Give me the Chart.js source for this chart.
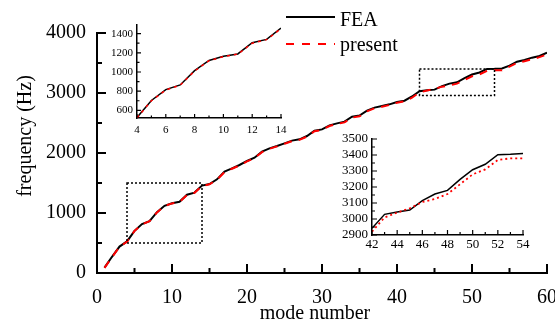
<!DOCTYPE html>
<html><head><meta charset="utf-8">
<script src="https://cdn.jsdelivr.net/npm/chart.js@4/dist/chart.umd.min.js"></script>
<style>
html,body{margin:0;padding:0;background:#fff;}
#wrap{position:relative;width:555px;height:322px;overflow:hidden;background:#fff;}
canvas{position:absolute;}
</style></head><body>
<div id="wrap">
<canvas id="main" width="555" height="322" style="left:0;top:0;width:555px;height:322px"></canvas>
<canvas id="in1" width="190" height="125" style="left:100px;top:15px;width:190px;height:125px"></canvas>
<canvas id="in2" width="205" height="125" style="left:330px;top:128px;width:205px;height:125px"></canvas>
</div>
<script>
// ---------- data ----------
const modes = [1,2,3,4,5,6,7,8,9,10,11,12,13,14,15,16,17,18,19,20,21,22,23,24,25,26,27,28,29,30,31,32,33,34,35,36,37,38,39,40,41,42,43,44,45,46,47,48,49,50,51,52,53,54,55,56,57,58,59,60];
const feaHz = [90,270,440,526,703,816,865,1014,1120,1163,1188,1305,1340,1457,1483,1561,1689,1744,1800,1867,1922,2022,2078,2117,2161,2206,2228,2283,2372,2394,2460,2494,2522,2606,2625,2706,2756,2783,2811,2850,2872,2942,3029,3044,3056,3115,3156,3179,3248,3308,3342,3402,3404,3410,3456,3522,3550,3589,3617,3672];
const presentHz = [85,265,435,522,700,812,862,1010,1117,1160,1186,1300,1337,1452,1478,1555,1682,1738,1793,1860,1915,2015,2070,2110,2153,2198,2220,2274,2362,2385,2450,2484,2510,2590,2612,2694,2745,2772,2800,2838,2860,2921,3010,3040,3067,3106,3125,3156,3217,3279,3310,3369,3379,3379,3440,3500,3530,3562,3598,3645];
const seriesNames = ['FEA','present'];

const mainXTicks = [0,10,20,30,40,50,60];
const mainXMinor = [5,15,25,35,45,55];
const mainYTicks = [0,1000,2000,3000,4000];
const mainYMinor = [500,1500,2500,3500];

const inset1XTicks = [4,6,8,10,12,14];
const inset1XMinor = [5,7,9,11,13];
const inset1YTicks = [600,800,1000,1200,1400];
const inset1YMinor = [700,900,1100,1300];

const inset2XTicks = [42,44,46,48,50,52,54];
const inset2XMinor = [43,45,47,49,51,53];
const inset2YTicks = [2900,3000,3100,3200,3300,3400,3500];
const inset2YMinor = [2950,3050,3150,3250,3350,3450];

const zoomBoxes = [[4,14,500,1500],[43,53,2960,3400]];

// ---------- helpers ----------
const SERIF = "'Liberation Serif','Times New Roman',serif";
function pts(arr, lo, hi){
  const out=[];
  modes.forEach((m,i)=>{ if(m>=lo && m<=hi) out.push({x:m,y:arr[i]}); });
  return out;
}
function fixY(w){ return s=>{ s.width=w; s.paddingTop=0; s.paddingBottom=0; }; }
function fixX(h){ return s=>{ s.height=h; s.paddingLeft=0; s.paddingRight=0; }; }
function setTicks(vals){ return s=>{ s.ticks = vals.map(v=>({value:v})); }; }
const plain = v => String(v);

function tickPlugin(cfg){
  return {
    id:'tickMarks',
    afterDraw(chart){
      const ctx=chart.ctx, ca=chart.chartArea, xs=chart.scales.x, ys=chart.scales.y;
      ctx.save();
      ctx.strokeStyle='#000'; ctx.lineWidth=cfg.w; ctx.setLineDash([]);
      ctx.beginPath();
      const xl=(v,len)=>{const p=xs.getPixelForValue(v); ctx.moveTo(p,ca.bottom); ctx.lineTo(p,ca.bottom-len);};
      const yl=(v,len)=>{const p=ys.getPixelForValue(v); ctx.moveTo(ca.left,p); ctx.lineTo(ca.left+len,p);};
      cfg.xMaj.forEach(v=>xl(v,cfg.maj)); cfg.xMin.forEach(v=>xl(v,cfg.min));
      cfg.yMaj.forEach(v=>yl(v,cfg.maj)); cfg.yMin.forEach(v=>yl(v,cfg.min));
      ctx.stroke();
      ctx.restore();
    }
  };
}

const annotPlugin = {
  id:'annot',
  afterDraw(chart){
    const ctx=chart.ctx, xs=chart.scales.x, ys=chart.scales.y;
    ctx.save();
    ctx.strokeStyle='#000'; ctx.lineWidth=1.5; ctx.setLineDash([2,2]);
    zoomBoxes.forEach(b=>{
      const x0=xs.getPixelForValue(b[0]), x1=xs.getPixelForValue(b[1]);
      const y0=ys.getPixelForValue(b[2]), y1=ys.getPixelForValue(b[3]);
      ctx.strokeRect(x0,y1,x1-x0,y0-y1);
    });
    ctx.setLineDash([]);
    ctx.lineWidth=2; ctx.strokeStyle='#000';
    ctx.beginPath(); ctx.moveTo(286,17); ctx.lineTo(335,17); ctx.stroke();
    ctx.strokeStyle='#ff0000'; ctx.setLineDash([8,8]);
    ctx.beginPath(); ctx.moveTo(286,44); ctx.lineTo(335,44); ctx.stroke();
    ctx.setLineDash([]);
    ctx.fillStyle='#000'; ctx.font='20px '+SERIF; ctx.textBaseline='alphabetic'; ctx.textAlign='left';
    ctx.fillText(seriesNames[0],340,26);
    ctx.fillText(seriesNames[1],340,51);
    ctx.textAlign='center';
    ctx.fillText('mode number',315,319);
    ctx.translate(31,136); ctx.rotate(-Math.PI/2);
    ctx.fillText('frequency (Hz)',0,0);
    ctx.restore();
  }
};

Chart.defaults.font.family = SERIF;
Chart.defaults.color = '#000';

function baseOpts(o){
  return {
    responsive:false, animation:false, devicePixelRatio:1,
    layout:{padding:o.pad},
    plugins:{legend:{display:false}, tooltip:{enabled:false}},
    elements:{point:{radius:0}, line:{tension:0}},
    scales:{
      x:{type:'linear', min:o.xmin, max:o.xmax,
         grid:{display:false, drawTicks:false}, border:{display:true,color:'#000',width:o.bw},
         ticks:{font:{size:o.fs,family:SERIF}, color:'#000', padding:o.xpad, maxRotation:0, autoSkip:false, callback:plain},
         afterBuildTicks:setTicks(o.xt), afterFit:fixX(o.xh)},
      y:{type:'linear', min:o.ymin, max:o.ymax,
         grid:{display:false, drawTicks:false}, border:{display:true,color:'#000',width:o.bw},
         ticks:{font:{size:o.fs,family:SERIF}, color:'#000', padding:o.ypad, autoSkip:false, callback:plain},
         afterBuildTicks:setTicks(o.yt), afterFit:fixY(o.yw)}
    }
  };
}

// ---------- main chart ----------
new Chart(document.getElementById('main'), {
  type:'line',
  data:{datasets:[
    {label:seriesNames[0], data:pts(feaHz,1,60), borderColor:'#000', borderWidth:2, order:2, fill:false},
    {label:seriesNames[1], data:pts(presentHz,1,60), borderColor:'#ff0000', borderWidth:2, borderDash:[8,7], order:1, fill:false}
  ]},
  options: baseOpts({pad:{top:33,right:8,left:0,bottom:0}, xmin:0,xmax:60,ymin:0,ymax:4000,
    bw:2, fs:20, xpad:13, ypad:11, xt:mainXTicks, yt:mainYTicks, xh:49, yw:97}),
  plugins:[tickPlugin({w:2,maj:9,min:5,xMaj:mainXTicks,xMin:mainXMinor,yMaj:mainYTicks,yMin:mainYMinor}), annotPlugin]
});

// ---------- inset 1 ----------
new Chart(document.getElementById('in1'), {
  type:'line',
  data:{datasets:[
    {label:seriesNames[0], data:pts(feaHz,4,14), borderColor:'#000', borderWidth:1.5, order:2},
    {label:seriesNames[1], data:pts(presentHz,4,14), borderColor:'#ff0000', borderWidth:1.5, borderDash:[3,4], order:1}
  ]},
  options: baseOpts({pad:{top:10,right:9,left:0,bottom:0}, xmin:4,xmax:14,ymin:520,ymax:1490,
    bw:1.5, fs:11, xpad:6, ypad:4, xt:inset1XTicks, yt:inset1YTicks, xh:22, yw:37}),
  plugins:[tickPlugin({w:1.2,maj:4,min:2.5,xMaj:inset1XTicks,xMin:inset1XMinor,yMaj:inset1YTicks,yMin:inset1YMinor})]
});

// ---------- inset 2 ----------
new Chart(document.getElementById('in2'), {
  type:'line',
  data:{datasets:[
    {label:seriesNames[0], data:pts(feaHz,42,54), borderColor:'#000', borderWidth:1.5, order:2},
    {label:seriesNames[1], data:pts(presentHz,42,54), borderColor:'#ff0000', borderWidth:1.8, borderDash:[2,3], order:1}
  ]},
  options: baseOpts({pad:{top:11,right:12,left:0,bottom:0}, xmin:42,xmax:54,ymin:2900,ymax:3500,
    bw:1.5, fs:13, xpad:2, ypad:4, xt:inset2XTicks, yt:inset2YTicks, xh:18, yw:42}),
  plugins:[tickPlugin({w:1.2,maj:5,min:3,xMaj:inset2XTicks,xMin:inset2XMinor,yMaj:inset2YTicks,yMin:inset2YMinor})]
});
</script>
</body></html>
